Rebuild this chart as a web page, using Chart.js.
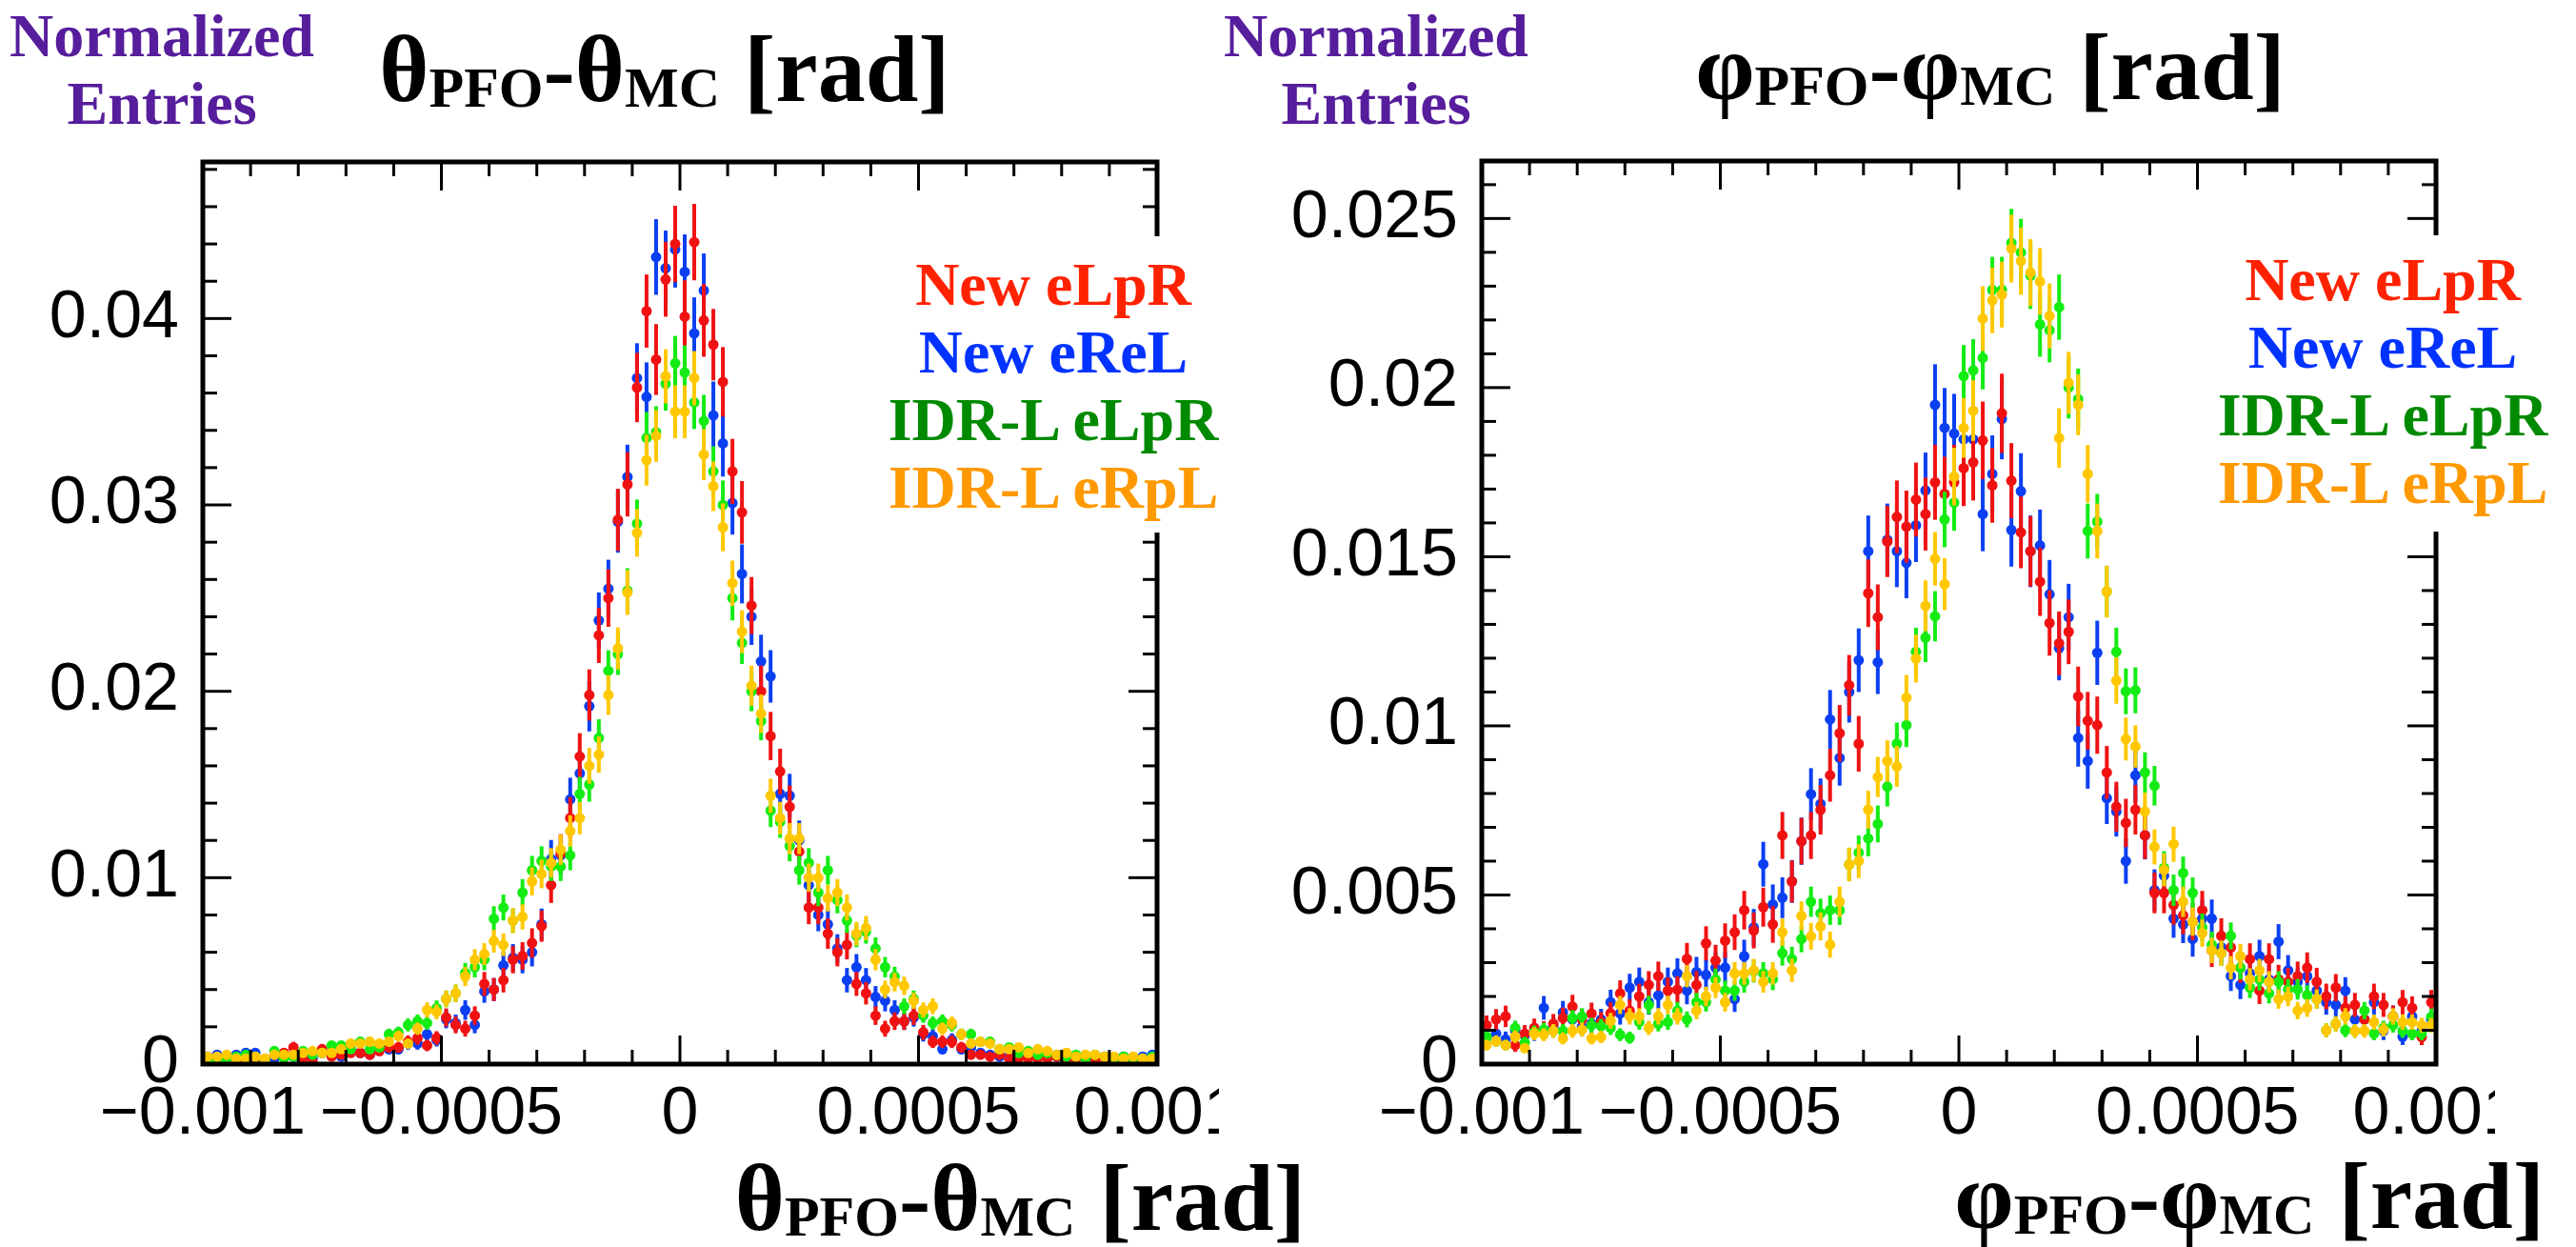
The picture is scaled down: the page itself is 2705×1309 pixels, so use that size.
<!DOCTYPE html>
<html lang="en">
<head>
  <meta charset="UTF-8" />
  <title>PFO angular resolution</title>
  <script src="https://cdn.jsdelivr.net/npm/chart.js"></script>
  <style>
    body { margin:0; width:2705px; height:1309px; position:relative; background:#fff; overflow:hidden; font-family:'Liberation Serif', serif; }
    canvas { position:absolute; top:0; }
    #thetaChart { left:0; }
    #phiChart { left:1300px; }
    .ytitle { position:absolute; width:400px; text-align:center; color:#561d9c; font-weight:bold; font-size:64px; line-height:71px; white-space:nowrap; }
    .title { position:absolute; font-weight:bold; font-size:100px; line-height:100px; white-space:nowrap; color:#000; }
    .title sub { font-size:60px; line-height:0; vertical-align:-6px; }
    .top { transform:translateX(-50%); }
    .legend { position:absolute; background:#fff; width:382px; height:311px; box-sizing:border-box; text-align:center; font-weight:bold; font-size:64px; line-height:71px; white-space:nowrap; }
  </style>
</head>
<body>
  <canvas id="thetaChart" width="1280" height="1309"></canvas>
  <canvas id="phiChart" width="1320" height="1309"></canvas>

  <div class="ytitle" style="left:-30px; top:2px;">Normalized<br>Entries</div>
  <div class="ytitle" style="left:1245px; top:2px;">Normalized<br>Entries</div>

  <div class="title top" style="left:698px; top:23px;">θ<sub>PFO</sub>-θ<sub>MC</sub> [rad]</div>
  <div class="title top" style="left:2090px; top:21px;">φ<sub>PFO</sub>-φ<sub>MC</sub> [rad]</div>

  <div class="title" style="right:1334px; top:1208px;">θ<sub>PFO</sub>-θ<sub>MC</sub> [rad]</div>
  <div class="title" style="right:33px; top:1206px;">φ<sub>PFO</sub>-φ<sub>MC</sub> [rad]</div>

  <!-- legends (white boxes hide the frame behind them, as in the original) -->
  <div class="legend" style="left:915px; top:248px; padding-top:15px;">
    <div style="color:#ff2200">New eLpR</div>
    <div style="color:#0033ff">New eReL</div>
    <div style="color:#008a00">IDR-L eLpR</div>
    <div style="color:#ff9900">IDR-L eRpL</div>
  </div>
  <div class="legend" style="left:2311px; top:247px; padding-top:11px;">
    <div style="color:#ff2200">New eLpR</div>
    <div style="color:#0033ff">New eReL</div>
    <div style="color:#008a00">IDR-L eLpR</div>
    <div style="color:#ff9900">IDR-L eRpL</div>
  </div>

  <script>
    // binning: 100 bins from -0.001 to 0.001
    const binLow = -0.001;
    const binWidth = 0.00002;

    const seriesNames = ['New eLpR', 'New eReL', 'IDR-L eLpR', 'IDR-L eRpL'];
    const markerColors = ['#f01212', '#0b3ff2', '#14ec14', '#ffc800'];
    const drawOrder = [2, 3, 1, 0];

    const xTicks = [-0.001, -0.0005, 0, 0.0005, 0.001];
    const xTickLabels = ['\u22120.001', '\u22120.0005', '0', '0.0005', '0.001'];
    const thetaYTicks = [0, 0.01, 0.02, 0.03, 0.04];
    const thetaYTickLabels = ['0', '0.01', '0.02', '0.03', '0.04'];
    const phiYTicks = [0, 0.005, 0.01, 0.015, 0.02, 0.025];
    const phiYTickLabels = ['0', '0.005', '0.01', '0.015', '0.02', '0.025'];

    // effective number of entries per sample (sets the size of the stat. error bars)
    const thetaEntries = [10500, 10500, 17500, 17500];
    const phiEntries = [14000, 13500, 24000, 24000];

    // theta_PFO - theta_MC
    const thetaNewLpR = [0.0003,0.0003,0.0003,0.0002,0.0002,0.0003,0.0001,0.0005,0.0006,0.0009,
      0.0003,0.0001,0.0008,0.0004,0.0005,0.0006,0.0006,0.0005,0.0007,0.0009,
      0.0009,0.0012,0.0014,0.0010,0.0014,0.0025,0.0021,0.0019,0.0026,0.0043,
      0.0040,0.0045,0.0056,0.0058,0.0065,0.0074,0.0096,0.0113,0.0132,0.0165,
      0.0198,0.0230,0.0250,0.0292,0.0311,0.0363,0.0404,0.0378,0.0421,0.0440,
      0.0401,0.0441,0.0399,0.0386,0.0366,0.0318,0.0296,0.0246,0.0200,0.0176,
      0.0157,0.0138,0.0114,0.0084,0.0084,0.0070,0.0060,0.0064,0.0043,0.0038,
      0.0026,0.0019,0.0023,0.0023,0.0026,0.0017,0.0012,0.0012,0.0012,0.0009,
      0.0005,0.0005,0.0004,0.0005,0.0003,0.0003,0.0003,0.0003,0.0003,0.0004,
      0.0002,0.0003,0.0003,0.0002,0.0003,0.0002,0.0003,0.0002,0.0002,0.0003];
    const thetaNewReL = [0.0004,0.0005,0.0003,0.0005,0.0006,0.0006,0.0002,0.0003,0.0005,0.0004,
      0.0005,0.0003,0.0006,0.0005,0.0004,0.0008,0.0006,0.0005,0.0008,0.0008,
      0.0008,0.0011,0.0011,0.0016,0.0013,0.0024,0.0022,0.0029,0.0021,0.0039,
      0.0040,0.0053,0.0057,0.0056,0.0060,0.0075,0.0110,0.0112,0.0142,0.0156,
      0.0192,0.0238,0.0255,0.0291,0.0315,0.0368,0.0358,0.0433,0.0427,0.0437,
      0.0425,0.0392,0.0415,0.0348,0.0333,0.0301,0.0263,0.0240,0.0216,0.0208,
      0.0145,0.0144,0.0120,0.0096,0.0080,0.0075,0.0062,0.0045,0.0052,0.0045,
      0.0036,0.0034,0.0029,0.0023,0.0025,0.0016,0.0015,0.0008,0.0013,0.0008,
      0.0009,0.0006,0.0005,0.0004,0.0004,0.0004,0.0006,0.0004,0.0005,0.0004,
      0.0005,0.0003,0.0004,0.0003,0.0004,0.0003,0.0004,0.0003,0.0004,0.0005];
    const thetaIdrLpR = [0.0003,0.0001,0.0003,0.0004,0.0005,0.0004,0.0002,0.0007,0.0003,0.0004,
      0.0007,0.0005,0.0006,0.0010,0.0010,0.0008,0.0012,0.0008,0.0009,0.0016,
      0.0017,0.0021,0.0023,0.0022,0.0030,0.0035,0.0038,0.0049,0.0052,0.0056,
      0.0078,0.0084,0.0077,0.0092,0.0104,0.0109,0.0106,0.0106,0.0112,0.0145,
      0.0150,0.0175,0.0211,0.0220,0.0254,0.0290,0.0336,0.0339,0.0365,0.0376,
      0.0371,0.0355,0.0345,0.0318,0.0300,0.0250,0.0226,0.0200,0.0184,0.0136,
      0.0130,0.0117,0.0104,0.0108,0.0092,0.0104,0.0088,0.0077,0.0069,0.0071,
      0.0062,0.0052,0.0047,0.0031,0.0035,0.0026,0.0022,0.0023,0.0021,0.0016,
      0.0016,0.0012,0.0012,0.0008,0.0009,0.0006,0.0007,0.0005,0.0006,0.0005,
      0.0004,0.0005,0.0003,0.0005,0.0004,0.0003,0.0004,0.0003,0.0003,0.0004];
    const thetaIdrRpL = [0.0004,0.0004,0.0005,0.0003,0.0003,0.0004,0.0003,0.0005,0.0005,0.0005,
      0.0006,0.0007,0.0006,0.0006,0.0008,0.0011,0.0011,0.0012,0.0011,0.0012,
      0.0015,0.0011,0.0019,0.0029,0.0028,0.0035,0.0038,0.0047,0.0056,0.0059,
      0.0066,0.0064,0.0077,0.0079,0.0098,0.0102,0.0108,0.0115,0.0125,0.0132,
      0.0160,0.0166,0.0198,0.0223,0.0253,0.0285,0.0324,0.0337,0.0369,0.0350,
      0.0350,0.0368,0.0327,0.0310,0.0288,0.0258,0.0232,0.0203,0.0188,0.0144,
      0.0132,0.0121,0.0121,0.0100,0.0100,0.0089,0.0092,0.0084,0.0070,0.0073,
      0.0056,0.0040,0.0044,0.0042,0.0034,0.0029,0.0031,0.0019,0.0022,0.0016,
      0.0011,0.0012,0.0011,0.0008,0.0008,0.0009,0.0006,0.0008,0.0007,0.0005,
      0.0006,0.0004,0.0005,0.0005,0.0004,0.0004,0.0003,0.0004,0.0003,0.0003];

    // phi_PFO - phi_MC
    const phiNewLpR = [0.00115,0.00132,0.00141,0.00056,0.00090,0.00107,0.00100,0.00119,0.00136,0.00170,
      0.00132,0.00149,0.00124,0.00150,0.00209,0.00158,0.00200,0.00234,0.00260,0.00217,
      0.00220,0.00311,0.00234,0.00357,0.00306,0.00365,0.00390,0.00455,0.00395,0.00464,
      0.00413,0.00676,0.00540,0.00659,0.00676,0.00752,0.00854,0.00978,0.01120,0.00947,
      0.01392,0.01321,0.01545,0.01618,0.01589,0.01669,0.01626,0.01720,0.01686,0.01720,
      0.01762,0.01779,0.01844,0.01711,0.01924,0.01725,0.01572,0.01516,0.01426,0.01304,
      0.01244,0.01278,0.01087,0.01015,0.01002,0.00862,0.00761,0.00713,0.00752,0.00676,
      0.00506,0.00506,0.00470,0.00440,0.00421,0.00455,0.00336,0.00379,0.00345,0.00285,
      0.00310,0.00217,0.00310,0.00251,0.00243,0.00260,0.00285,0.00243,0.00200,0.00226,
      0.00166,0.00175,0.00132,0.00200,0.00175,0.00141,0.00183,0.00166,0.00080,0.00183];
    const phiNewReL = [0.00081,0.00090,0.00073,0.00100,0.00085,0.00095,0.00166,0.00110,0.00153,0.00132,
      0.00110,0.00120,0.00132,0.00183,0.00150,0.00226,0.00243,0.00183,0.00203,0.00243,
      0.00268,0.00217,0.00272,0.00264,0.00285,0.00285,0.00192,0.00319,0.00404,0.00591,
      0.00472,0.00492,0.00540,0.00659,0.00798,0.00769,0.01019,0.00905,0.01100,0.01194,
      0.01516,0.01188,0.01550,0.01516,0.01482,0.01593,0.01696,0.01949,0.01881,0.01864,
      0.01847,0.01847,0.01626,0.01745,0.01907,0.01579,0.01694,0.01516,0.01533,0.01389,
      0.01230,0.01321,0.00964,0.00896,0.01216,0.00786,0.00747,0.00600,0.00854,0.00676,
      0.00514,0.00557,0.00430,0.00413,0.00370,0.00430,0.00430,0.00345,0.00260,0.00234,
      0.00268,0.00319,0.00250,0.00362,0.00277,0.00243,0.00260,0.00217,0.00183,0.00175,
      0.00217,0.00132,0.00132,0.00183,0.00098,0.00141,0.00081,0.00141,0.00098,0.00132];
    const phiIdrLpR = [0.00081,0.00068,0.00056,0.00107,0.00064,0.00094,0.00102,0.00098,0.00098,0.00136,
      0.00141,0.00115,0.00112,0.00107,0.00087,0.00078,0.00124,0.00175,0.00119,0.00124,
      0.00158,0.00132,0.00183,0.00183,0.00250,0.00217,0.00217,0.00243,0.00275,0.00268,
      0.00251,0.00328,0.00311,0.00370,0.00480,0.00446,0.00455,0.00455,0.00590,0.00625,
      0.00667,0.00710,0.00820,0.00947,0.01002,0.01219,0.01261,0.01324,0.01610,0.01660,
      0.02034,0.02051,0.02088,0.02289,0.02289,0.02428,0.02399,0.02331,0.02187,0.02170,
      0.02238,0.02000,0.01966,0.01576,0.01604,0.01397,0.01219,0.01102,0.01105,0.00862,
      0.00823,0.00580,0.00514,0.00565,0.00506,0.00404,0.00353,0.00328,0.00379,0.00285,
      0.00226,0.00250,0.00209,0.00243,0.00221,0.00221,0.00204,0.00192,0.00100,0.00119,
      0.00100,0.00098,0.00158,0.00090,0.00107,0.00115,0.00098,0.00090,0.00090,0.00140];
    const phiIdrRpL = [0.00056,0.00068,0.00056,0.00081,0.00047,0.00090,0.00087,0.00098,0.00076,0.00098,
      0.00102,0.00076,0.00080,0.00128,0.00175,0.00141,0.00141,0.00107,0.00141,0.00175,
      0.00141,0.00260,0.00158,0.00200,0.00226,0.00183,0.00268,0.00268,0.00277,0.00243,
      0.00268,0.00390,0.00277,0.00438,0.00378,0.00407,0.00353,0.00480,0.00590,0.00600,
      0.00752,0.00849,0.00896,0.00880,0.01083,0.01199,0.01355,0.01494,0.01419,0.01737,
      0.01881,0.01932,0.02204,0.02258,0.02275,0.02411,0.02374,0.02340,0.02314,0.02212,
      0.01851,0.02014,0.01949,0.01745,0.01576,0.01397,0.01134,0.00961,0.00939,0.00747,
      0.00642,0.00574,0.00650,0.00480,0.00421,0.00387,0.00336,0.00328,0.00285,0.00319,
      0.00251,0.00277,0.00243,0.00192,0.00200,0.00158,0.00166,0.00192,0.00100,0.00119,
      0.00141,0.00098,0.00098,0.00124,0.00102,0.00141,0.00124,0.00124,0.00115,0.00115];

    // vertical stat. error bars, drawn right after each dataset so layering matches the points
    const errorBars = {
      id: 'errorBars',
      afterDatasetDraw(chart, args) {
        const ds = chart.data.datasets[args.index];
        const ys = chart.scales.y, a = chart.chartArea, ctx = chart.ctx;
        ctx.save();
        ctx.beginPath();
        ctx.rect(a.left, a.top, a.right - a.left, a.bottom - a.top);
        ctx.clip();
        ctx.strokeStyle = ds.backgroundColor;
        ctx.lineWidth = 4;
        args.meta.data.forEach((pt, i) => {
          const v = ds.data[i].y, e = ds.errors[i];
          ctx.beginPath();
          ctx.moveTo(pt.x, ys.getPixelForValue(v - e));
          ctx.lineTo(pt.x, ys.getPixelForValue(v + e));
          ctx.stroke();
        });
        ctx.restore();
      }
    };

    // ROOT style frame with inward ticks on all four sides
    const rootFrame = {
      id: 'rootFrame',
      afterDraw(chart, args, opts) {
        const ctx = chart.ctx, a = chart.chartArea, x = chart.scales.x, y = chart.scales.y;
        ctx.save();
        ctx.strokeStyle = '#000';
        ctx.lineWidth = 3;
        const line = (x0, y0, x1, y1) => { ctx.beginPath(); ctx.moveTo(x0, y0); ctx.lineTo(x1, y1); ctx.stroke(); };
        for (let k = -10; k <= 10; k++) {
          const px = x.getPixelForValue(k * 0.0001);
          const len = k % 5 === 0 ? 30 : 15;
          line(px, a.bottom, px, a.bottom - len);
          line(px, a.top, px, a.top + len);
        }
        const nMinor = Math.floor(y.max / opts.yMinorStep + 1e-9);
        for (let k = 0; k <= nMinor; k++) {
          const py = y.getPixelForValue(k * opts.yMinorStep);
          const len = k % 5 === 0 ? 30 : 15;
          line(a.left, py, a.left + len, py);
          line(a.right, py, a.right - len, py);
        }
        ctx.lineWidth = 5;
        ctx.strokeRect(a.left, a.top, a.right - a.left, a.bottom - a.top);
        ctx.restore();
      }
    };

    function makePanel(canvasId, series, entries, yMax, yTicks, yTickLabels, yMinorStep, yAxisWidth, padTop, padRight) {
      const datasets = series.map((vals, s) => ({
        label: seriesNames[s],
        data: vals.map((v, i) => ({ x: binLow + binWidth * (i + 0.5), y: v })),
        errors: vals.map(v => Math.sqrt(v / entries[s])),
        backgroundColor: markerColors[s],
        borderWidth: 0,
        pointRadius: 5.5,
        pointStyle: 'circle',
        order: drawOrder[s]
      }));
      const tickFont = { family: 'Liberation Sans', size: 70 };
      return new Chart(document.getElementById(canvasId), {
        type: 'scatter',
        data: { datasets },
        options: {
          responsive: false,
          animation: false,
          devicePixelRatio: 1,
          events: [],
          layout: { padding: { top: padTop, right: padRight, left: 0, bottom: 0 } },
          plugins: {
            legend: { display: false },
            tooltip: { enabled: false },
            rootFrame: { yMinorStep }
          },
          scales: {
            x: {
              type: 'linear', min: -0.001, max: 0.001,
              grid: { display: false, drawTicks: false }, border: { display: false },
              afterBuildTicks: s => { s.ticks = xTicks.map(v => ({ value: v })); },
              afterFit: s => { s.height = 192; s.paddingLeft = 0; s.paddingRight = 0; },
              ticks: { autoSkip: false, maxRotation: 0, minRotation: 0, padding: 12, color: '#000', font: tickFont,
                       callback: (v, i) => xTickLabels[i] }
            },
            y: {
              type: 'linear', min: 0, max: yMax,
              grid: { display: false, drawTicks: false }, border: { display: false },
              afterBuildTicks: s => { s.ticks = yTicks.map(v => ({ value: v })); },
              afterFit: s => { s.width = yAxisWidth; s.paddingTop = 0; s.paddingBottom = 0; },
              ticks: { autoSkip: false, padding: 25, color: '#000', font: tickFont,
                       callback: (v, i) => yTickLabels[i] }
            }
          }
        },
        plugins: [errorBars, rootFrame]
      });
    }

    makePanel('thetaChart', [thetaNewLpR, thetaNewReL, thetaIdrLpR, thetaIdrRpL], thetaEntries,
      0.0484, thetaYTicks, thetaYTickLabels, 0.002, 213, 170, 65);
    makePanel('phiChart', [phiNewLpR, phiNewReL, phiIdrLpR, phiIdrRpL], phiEntries,
      0.0267, phiYTicks, phiYTickLabels, 0.001, 256, 169, 62);
  </script>
</body>
</html>
